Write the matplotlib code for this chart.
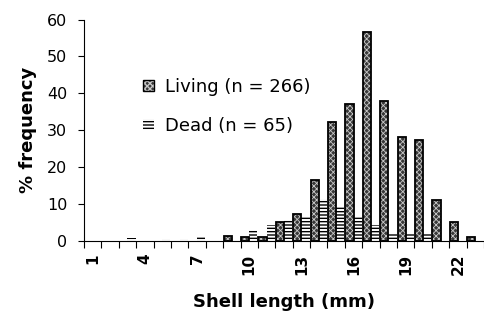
import matplotlib
matplotlib.use("Agg")
import matplotlib.pyplot as plt
from matplotlib.patches import Patch
import numpy as np

categories = list(range(1, 24))
living = [0, 0, 0, 0, 0, 0, 0, 0, 1.4, 1.0, 1.2, 5.2, 7.3, 16.5, 32.2, 37.0,
          56.5, 38.0, 28.2, 27.3, 11.0, 5.1, 1.2]
dead = [0, 0, 0.7, 0, 0.5, 0.5, 1.2, 0, 0, 3.1, 4.3, 5.7, 6.6, 11.4, 9.1, 6.6,
        4.3, 1.8, 1.8, 1.8, 0, 0, 0]
xtick_labels = ["1", "4", "7", "10", "13", "16", "19", "22"]
yticks = [0, 10, 20, 30, 40, 50, 60]

plt.rcParams['font.family'] = ['DejaVu Sans']

W, H = 484, 318
fig = plt.figure(figsize=(W / 100, H / 100), dpi=100)
ax = fig.add_axes([84 / W, (H - 241) / H, 400 / W, (241 - 19.5) / H])

x = np.array(categories, dtype=float)
liv = np.array(living, dtype=float)
liv[liv == 0] = np.nan
dd = np.array(dead, dtype=float)
dd[dd == 0] = np.nan
bw = 0.47

LIV_FACE, LIV_HATCH = '#383838', '#c8c8c8'

with plt.rc_context({'hatch.linewidth': 0.6}):
    ax.bar(x - 0.235, liv, width=bw, facecolor=LIV_FACE, edgecolor=LIV_HATCH,
           hatch='xxxxxx', linewidth=0, zorder=3)
ax.bar(x - 0.235, liv, width=bw, facecolor='none', edgecolor='black',
       linewidth=1.3, zorder=4)
with plt.rc_context({'hatch.linewidth': 1.0}):
    ax.bar(x + 0.235, dd, width=bw, facecolor='white', edgecolor='black',
           hatch='-----', linewidth=0, zorder=2)

ax.set_xlim(0.5, 23.5)
ax.set_ylim(0, 60)
for s in ['top', 'right']:
    ax.spines[s].set_visible(False)
for s in ['left', 'bottom']:
    ax.spines[s].set_linewidth(0.8)

ax.set_yticks(yticks)
ax.set_yticklabels([str(v) for v in yticks], fontsize=11.5)
ax.tick_params(axis='y', length=4, width=0.8, pad=8)

ax.set_xticks([int(l) for l in xtick_labels])
ax.set_xticklabels(xtick_labels, rotation=90, fontsize=11, fontweight='bold')
ax.set_xticks(np.arange(0.5, 23.6, 1.0), minor=True)
ax.tick_params(axis='x', which='major', length=0, pad=9)
ax.tick_params(axis='x', which='minor', length=5, width=0.8)

fig.text(28 / W, 1 - 130 / H, "% frequency", rotation=90, ha='center', va='center',
         fontsize=13, fontweight='bold')
fig.text(284 / W, 1 - 302 / H, "Shell length (mm)", ha='center', va='center',
         fontsize=13, fontweight='bold')

with plt.rc_context({'hatch.linewidth': 0.6}):
    h_liv_fill = Patch(facecolor=LIV_FACE, edgecolor=LIV_HATCH, hatch='xxxxxx', linewidth=0)
h_liv_edge = Patch(facecolor='none', edgecolor='black', linewidth=1.0)
with plt.rc_context({'hatch.linewidth': 1.0}):
    h_dead = Patch(facecolor='white', edgecolor='black', hatch='-----', linewidth=0)
labels = ["Living (n = 266)", "Dead (n = 65)"]
ax.legend([(h_liv_fill, h_liv_edge), h_dead], labels, loc='upper left',
          bbox_to_anchor=(143 / W, 1 - 78 / H),
          bbox_transform=fig.transFigure, frameon=False, fontsize=13,
          handlelength=0.6, handleheight=0.6, handletextpad=0.6,
          labelspacing=1.15, borderpad=0, borderaxespad=0)

fig.savefig("out.png", dpi=100)
